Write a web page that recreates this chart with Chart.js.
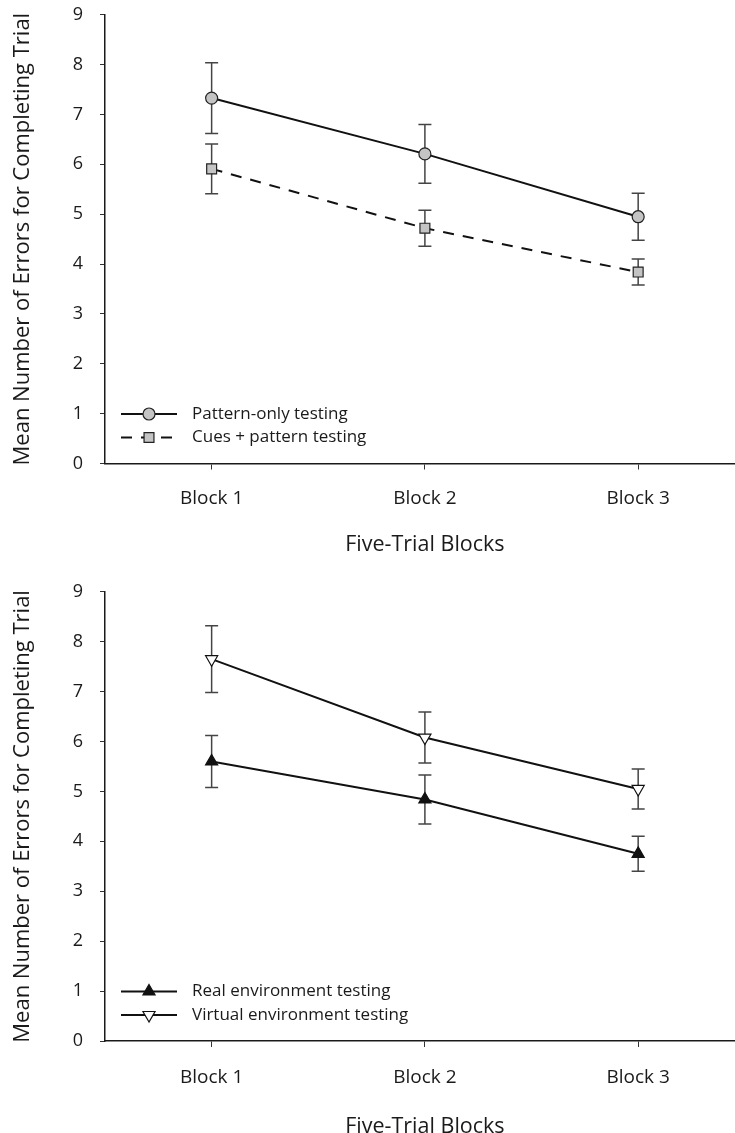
<!DOCTYPE html>
<html>
<head>
<meta charset="utf-8">
<script src="https://cdn.jsdelivr.net/npm/chart.js@4.4.1/dist/chart.umd.min.js"></script>
<style>
	body { margin: 0; background: #fff; overflow: hidden; width: 735px; height: 1133px; position: relative; }
	canvas { display: block; position: absolute; left: 0; }
	#topChart { top: -13px; }
	#bottomChart { top: 564px; }
</style>
</head>
<body>
<canvas id="topChart" width="753" height="583"></canvas>
<canvas id="bottomChart" width="753" height="581"></canvas>
<script>
const blocks = ['Block 1', 'Block 2', 'Block 3'];
const yTicks = [0, 1, 2, 3, 4, 5, 6, 7, 8, 9];

// top panel
const patternOnly = [7.33, 6.21, 4.95];
const patternOnlyErr = [0.71, 0.59, 0.47];
const cuesPattern = [5.91, 4.72, 3.84];
const cuesPatternErr = [0.50, 0.36, 0.26];

// bottom panel
const realEnv = [5.60, 4.84, 3.75];
const realEnvErr = [0.52, 0.49, 0.35];
const virtualEnv = [7.65, 6.08, 5.05];
const virtualEnvErr = [0.67, 0.51, 0.40];

const FONT = "'Open Sans', 'DejaVu Sans', sans-serif";
const INK = '#1a1a1a';

// vertical error bars with caps, drawn under the lines
const errorBars = {
	id: 'errorBars',
	beforeDatasetsDraw(chart) {
		const ctx = chart.ctx;
		const yScale = chart.scales.y;
		chart.data.datasets.forEach((ds, i) => {
			const meta = chart.getDatasetMeta(i);
			ctx.save();
			ctx.strokeStyle = '#444';
			ctx.lineWidth = 1.5;
			meta.data.forEach((pt, j) => {
				const top = yScale.getPixelForValue(ds.data[j] + ds.errors[j]);
				const bot = yScale.getPixelForValue(ds.data[j] - ds.errors[j]);
				ctx.beginPath();
				ctx.moveTo(pt.x, top);
				ctx.lineTo(pt.x, bot);
				ctx.moveTo(pt.x - 6.5, top);
				ctx.lineTo(pt.x + 6.5, top);
				ctx.moveTo(pt.x - 6.5, bot);
				ctx.lineTo(pt.x + 6.5, bot);
				ctx.stroke();
			});
			ctx.restore();
		});
	}
};

// legend sitting inside the plot, lower left
const insideLegend = {
	id: 'insideLegend',
	afterDatasetsDraw(chart) {
		const { ctx, chartArea } = chart;
		chart.data.datasets.forEach((ds, i) => {
			const y = chartArea.bottom - 49.5 + i * 23.5;
			const x0 = chartArea.left + 16;
			ctx.save();
			ctx.strokeStyle = ds.borderColor;
			ctx.lineWidth = ds.borderWidth;
			ctx.setLineDash(ds.borderDash || []);
			ctx.beginPath();
			ctx.moveTo(x0, y);
			ctx.lineTo(x0 + 56, y);
			ctx.stroke();
			ctx.setLineDash([]);
			ctx.fillStyle = ds.pointBackgroundColor;
			ctx.strokeStyle = ds.pointBorderColor;
			ctx.lineWidth = ds.pointBorderWidth;
			Chart.helpers.drawPoint(ctx, {
				pointStyle: ds.pointStyle,
				rotation: ds.pointRotation || 0,
				radius: ds.pointRadius,
				borderWidth: ds.pointBorderWidth
			}, x0 + 28, y);
			ctx.fillStyle = INK;
			ctx.font = '17px ' + FONT;
			ctx.textBaseline = 'middle';
			ctx.textAlign = 'left';
			ctx.fillText(ds.label, x0 + 71, y);
			ctx.restore();
		});
	}
};

function makeChart(id, datasets, layout) {
	return new Chart(document.getElementById(id), {
		type: 'line',
		data: { labels: blocks, datasets: datasets },
		options: {
			responsive: false,
			animation: false,
			events: [],
			layout: { padding: { top: 0, right: 1, left: 0, bottom: 0 } },
			plugins: { legend: { display: false }, tooltip: { enabled: false } },
			scales: {
				x: {
					type: 'category',
					offset: true,
					border: { display: true, color: INK, width: 1.5 },
					grid: { display: true, drawOnChartArea: false, drawTicks: true, tickLength: 6, tickColor: '#333', tickWidth: 1 },
					ticks: { color: INK, font: { family: FONT, size: 19 }, padding: layout.tickPad },
					title: {
						display: true,
						text: 'Five-Trial Blocks',
						color: INK,
						font: { family: FONT, size: 21.5 },
						padding: { top: 0, bottom: layout.titlePad }
					},
					afterFit(scale) { scale.height = layout.xHeight; }
				},
				y: {
					min: 0,
					max: 9,
					afterBuildTicks(scale) { scale.ticks = yTicks.map(v => ({ value: v })); },
					border: { display: true, color: INK, width: 1.5 },
					grid: { display: true, drawOnChartArea: false, drawTicks: true, tickLength: 5, tickColor: '#333', tickWidth: 1 },
					ticks: { color: INK, font: { family: FONT, size: 18 }, padding: 17 },
					title: {
						display: true,
						text: 'Mean Number of Errors for Completing Trial',
						color: INK,
						font: { family: FONT, size: 22 },
						padding: { top: 10, bottom: 0 }
					},
					afterFit(scale) { scale.width = 105; }
				}
			}
		},
		plugins: [errorBars, insideLegend]
	});
}

function series(label, data, errors, style) {
	return Object.assign({
		label: label,
		data: data,
		errors: errors,
		borderColor: '#111',
		borderWidth: 2,
		tension: 0,
		fill: false,
		pointBorderColor: '#222',
		pointBorderWidth: 1.2
	}, style);
}

makeChart('topChart', [
	series('Pattern-only testing', patternOnly, patternOnlyErr, {
		pointStyle: 'circle', pointRadius: 6, pointBackgroundColor: '#c4c4c4'
	}),
	series('Cues + pattern testing', cuesPattern, cuesPatternErr, {
		borderDash: [11, 9], pointStyle: 'rect', pointRadius: 7, pointBackgroundColor: '#c4c4c4'
	})
], { xHeight: 106.5, tickPad: 17.5, titlePad: 12 });

makeChart('bottomChart', [
	series('Real environment testing', realEnv, realEnvErr, {
		pointStyle: 'triangle', pointRadius: 7, pointBackgroundColor: '#111', pointBorderColor: '#111'
	}),
	series('Virtual environment testing', virtualEnv, virtualEnvErr, {
		pointStyle: 'triangle', pointRotation: 180, pointRadius: 7, pointBackgroundColor: '#fff', pointBorderColor: '#111'
	})
], { xHeight: 104, tickPad: 19.5, titlePad: 5 });
</script>
</body>
</html>
